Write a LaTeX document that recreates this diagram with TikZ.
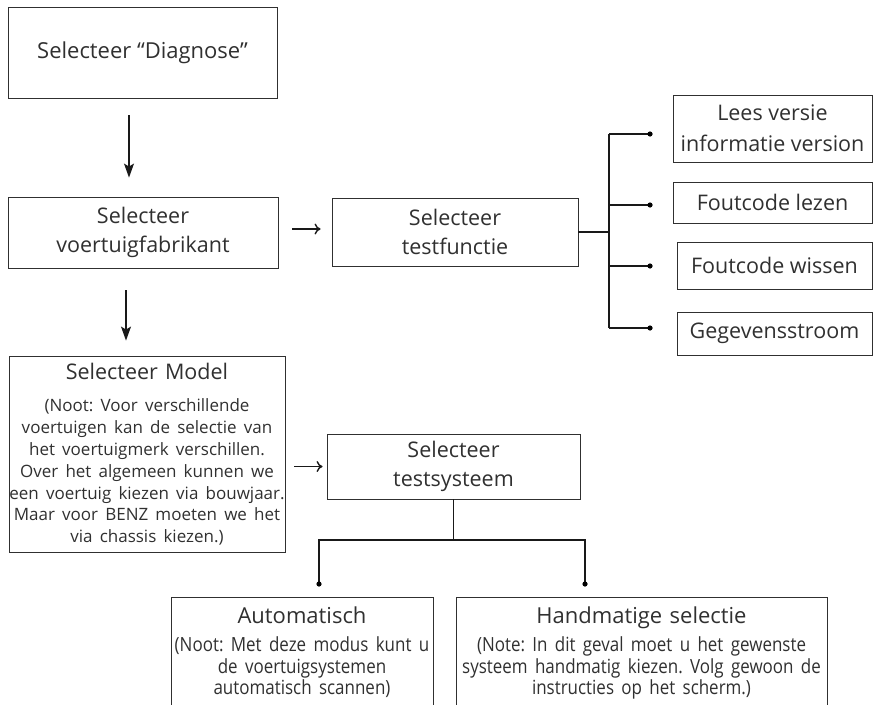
\documentclass[tikz,border=0pt]{standalone}
\usepackage[x11names]{xcolor}
\usepackage{fontspec}
\setmainfont{Open Sans}
\newfontfamily\smalfont{Open Sans}[FakeStretch=0.87]
\usetikzlibrary{arrows.meta}
\tikzset{>={Stealth[length=14pt,width=10pt,inset=3pt]}}
\definecolor{inkt}{HTML}{303030}

\begin{document}
\frenchspacing
\begin{tikzpicture}[x=1pt,y=-1pt,
		box/.style={draw=inkt,line width=.9pt,text=inkt,align=center,inner sep=4pt,
			font=\fontsize{21.5}{29}\selectfont},
		lijn/.style={line width=1.4pt,black!90},
		pijlv/.style={line width=1.1pt,black!90,->},
		pijlh/.style={lijn,-{Computer Modern Rightarrow[length=6pt,width=11pt]}}]
			% \draw[help lines] (0,0) grid[step=50] (874,704);
			\useasboundingbox (0,0) rectangle (874,704);
			\clip (0,0) rectangle (874,704);
			% linker kolom
			\node[box,minimum width=269,minimum height=91,font=\fontsize{22}{29}\selectfont] (diag) at (142.5,52.5) {Selecteer “Diagnose”};
			\node[box,minimum width=270,minimum height=71] (fabr) at (143,232.5) {Selecteer\\voertuigfabrikant};
			\node[box,minimum width=246,minimum height=68] (testf) at (455,232) {Selecteer\\testfunctie};
			\node[box,minimum width=276,minimum height=196,text width=290,inner xsep=-7pt] (model) at (147,454)
				{Selecteer Model\par\vspace{11pt}
				{\fontsize{17}{21.8}\selectfont (Noot: Voor verschillende\\ voertuigen kan de selectie van\\ het voertuigmerk verschillen.\\
				Over het algemeen kunnen we\\ een voertuig kiezen via bouwjaar.\\ Maar voor BENZ moeten we het\\ via chassis kiezen.)\par}};
			\node[box,minimum width=253,minimum height=65] (testsys) at (453.5,466.5) {Selecteer\\testsysteem};
			% testfuncties rechts
			\node[box,minimum width=199,minimum height=67,font=\fontsize{21.5}{31}\selectfont] (lees) at (772.5,128.5) {Lees versie\\informatie version};
			\node[box,minimum width=199,minimum height=41] (lezen) at (772.5,202.5) {Foutcode lezen};
			\node[box,minimum width=195,minimum height=47] (wissen) at (774.5,265.5) {Foutcode wissen};
			\node[box,minimum width=195,minimum height=43] (stroom) at (774.5,333.5) {Gegevensstroom};
			% testsystemen onder
			\node[box,anchor=north,minimum width=262,text width=270,inner xsep=-4pt,inner ysep=9pt,font=\fontsize{22}{29}\selectfont] (auto) at (302,597)
				{Automatisch\par\vspace{7pt}
				{\smalfont\fontsize{19.5}{21.5}\selectfont (Noot: Met deze modus kunt u\\ de voertuigsystemen\\ automatisch scannen)\par}\rule{0pt}{40pt}};
			\node[box,anchor=north,minimum width=371,text width=379,inner xsep=-4pt,inner ysep=9pt,font=\fontsize{22}{29}\selectfont] (hand) at (641.5,597)
				{Handmatige selectie\par\vspace{7pt}
				{\smalfont\fontsize{19.5}{21.5}\selectfont (Note: In dit geval moet u het gewenste\\ systeem handmatig kiezen. Volg gewoon de\\ instructies op het scherm.)\par}\rule{0pt}{40pt}};
			% pijlen
			\draw[pijlv,shorten <=17pt,shorten >=19pt] ([xshift=-13.5pt]diag.south) -- ([xshift=-14pt]fabr.north);
			\draw[pijlv,shorten <=22pt,shorten >=15pt] ([xshift=-17pt]fabr.south) -- ([xshift=-21pt]model.north);
			\draw[pijlh,shorten <=14pt,shorten >=11pt] ([yshift=3.5pt]fabr.east) -- ([yshift=3pt]testf.west);
			\draw[pijlh,shorten <=9pt,shorten >=4pt] (model.east |- testsys.west) -- (testsys.west);
			% boom rechts
			\coordinate (knoop) at (609,232);
			\draw[lijn] (testf.east) -- (knoop);
			\draw[lijn] (609,134) -- (609,328);
			\foreach \y/\naam in {134/d1,205/d2,266/d3,328/d4}{
				\coordinate (\naam) at (650,\y);
				\draw[lijn] (609,\y) -- (\naam);
				\fill (\naam) circle[radius=2.6];
			}
			% boom onder
			\coordinate (splits) at (453.5,540);
			\coordinate (e1) at (319,584);
			\coordinate (e2) at (585,584);
			\draw[lijn] (testsys.south) -- (splits);
			\draw[lijn] (e1) |- (splits) -| (e2);
			\foreach \naam in {e1,e2}
				\fill (\naam) circle[radius=2.6];
		\end{tikzpicture}
\end{document}
